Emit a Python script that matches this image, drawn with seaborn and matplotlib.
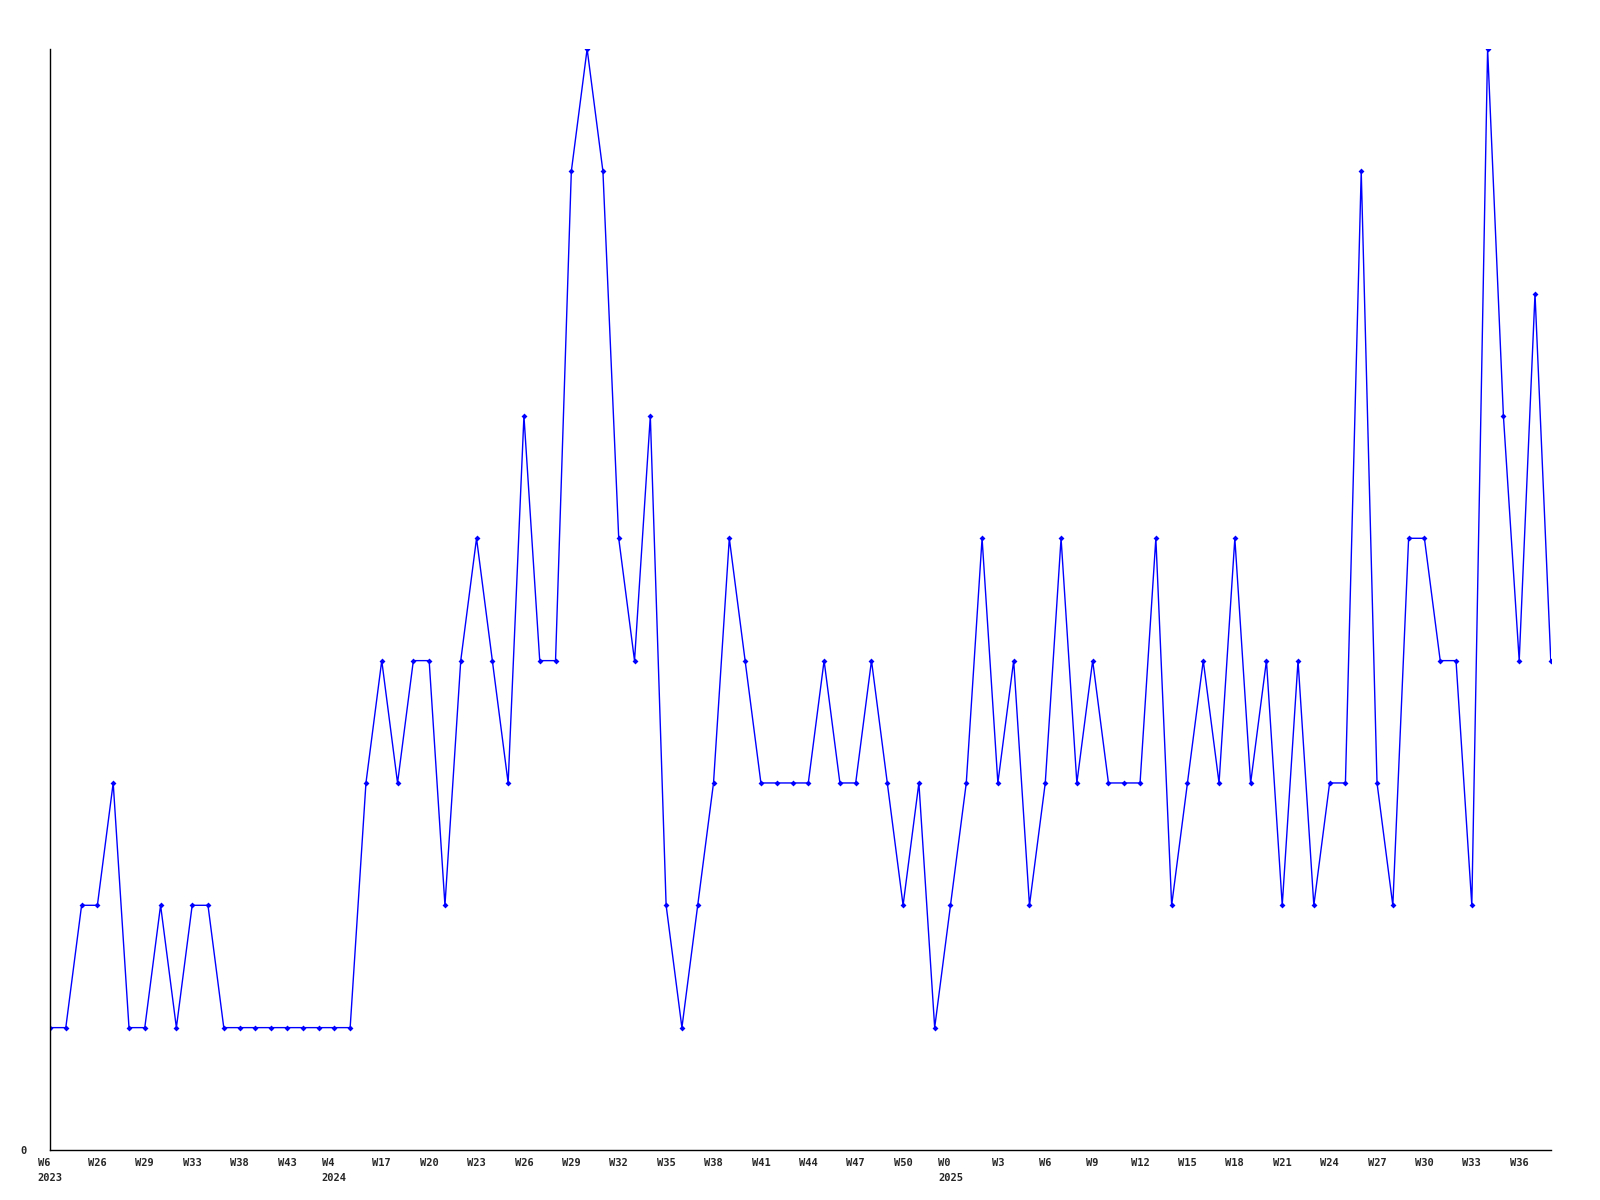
import matplotlib
matplotlib.use('Agg')
import pandas as pd
import seaborn as sns
import matplotlib.pyplot as plt

# weekly counts, one per point
values = [1, 1, 2, 2, 3, 1, 1, 2, 1, 2, 2, 1, 1, 1, 1, 1, 1, 1, 1, 1,
          3, 4, 3, 4, 4, 2, 4, 5, 4, 3, 6, 4, 4, 8, 9, 8, 5, 4, 6, 2,
          1, 2, 3, 5, 4, 3, 3, 3, 3, 4, 3, 3, 4, 3, 2, 3, 1, 2, 3, 5,
          3, 4, 2, 3, 5, 3, 4, 3, 3, 3, 5, 2, 3, 4, 3, 5, 3, 4, 2, 4,
          2, 3, 3, 8, 3, 2, 5, 5, 4, 4, 2, 9, 6, 4, 7, 4]

# labels shown on every third point
tick_labels = ['W6\n2023', 'W26', 'W29', 'W33', 'W38', 'W43', 'W4\n2024', 'W17',
               'W20', 'W23', 'W26', 'W29', 'W32', 'W35', 'W38', 'W41', 'W44',
               'W47', 'W50', 'W0\n2025', 'W3', 'W6', 'W9', 'W12', 'W15', 'W18',
               'W21', 'W24', 'W27', 'W30', 'W33', 'W36']

df = pd.DataFrame({'idx': range(len(values)), 'count': values})

sns.set_style('white')
plt.rcParams['font.family'] = ['DejaVu Sans Mono']

fig = plt.figure(figsize=(16, 12), dpi=100)
ax = fig.add_axes([0.03125, 0.0417, 0.938, 0.9175])

sns.lineplot(data=df, x='idx', y='count', ax=ax, color='#0000ff', linewidth=1.0,
             marker='D', markersize=3, markeredgewidth=0)

ax.set_xlim(0, len(values) - 1)
ax.set_ylim(0, max(values))
ax.set_xticks(range(0, len(values), 3))
ax.set_xticklabels(tick_labels, fontsize=7.5, fontweight='bold', ha='center',
                   multialignment='left', linespacing=1.6)
ax.set_yticks([0])
ax.set_yticklabels(['0'], fontsize=7.5, fontweight='bold')
ax.tick_params(axis='x', length=0, pad=6)
ax.tick_params(axis='y', length=0, pad=17)
ax.set_xlabel('')
ax.set_ylabel('')
for s in ['top', 'right']:
    ax.spines[s].set_visible(False)
for s in ['left', 'bottom']:
    ax.spines[s].set_color('black')
    ax.spines[s].set_linewidth(1)

fig.savefig('out.png', dpi=100)
